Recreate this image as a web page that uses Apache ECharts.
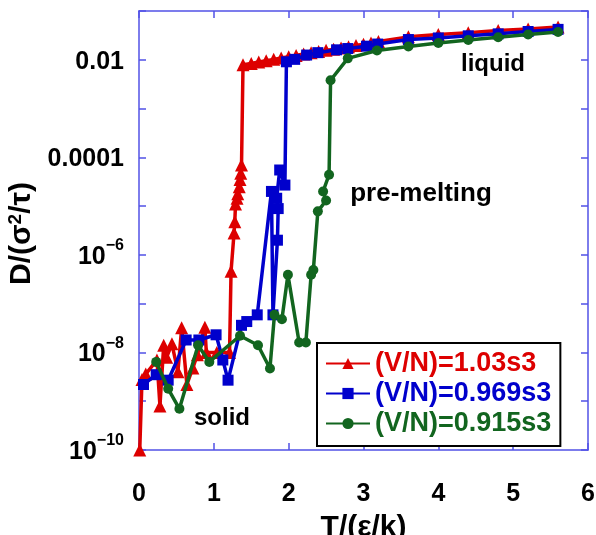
<!DOCTYPE html>
<html>
<head>
<meta charset="utf-8">
<style>
  html, body { margin: 0; padding: 0; background: #fff; }
  #chart { width: 596px; height: 535px; }
</style>
<script src="https://cdn.jsdelivr.net/npm/echarts@6/dist/echarts.min.js"></script>
</head>
<body>
<div id="chart"></div>
<script>
// Diffusion coefficient D versus temperature T for three densities
const seriesNames = ['(V/N)=1.03s3', '(V/N)=0.969s3', '(V/N)=0.915s3'];

const redT = [0.01, 0.04, 0.09, 0.24, 0.28, 0.33, 0.37, 0.44, 0.52, 0.57,
  0.64, 0.72, 0.78, 0.88, 0.90, 1.04, 1.21, 1.23, 1.27, 1.28,
  1.29, 1.31, 1.32, 1.34, 1.35, 1.36, 1.37, 1.39,
  1.5, 1.6, 1.7, 1.8, 1.9, 2.0, 2.1, 2.2, 2.3, 2.4, 2.5, 2.6, 2.7, 2.8, 2.9, 3.0, 3.1, 3.2,
  3.6, 4.0, 4.4, 4.8, 5.2, 5.6];
const redD = [1.0e-10, 2.8e-9, 3.6e-9, 7e-9, 8e-10, 1.4e-8, 8e-9, 1.5e-8, 4e-9, 3.2e-8,
  2.2e-9, 4.8e-9, 9e-9, 3.3e-8, 1.0e-8, 1.0e-8, 1.0e-8, 4.6e-7, 2.8e-6, 4.8e-6,
  1.1e-5, 1.45e-5, 1.8e-5, 2.5e-5, 3.5e-5, 4.7e-5, 7.0e-5, 7.9e-3,
  8.4e-3, 9.0e-3, 9.6e-3, 1.02e-2, 1.09e-2, 1.16e-2, 1.23e-2, 1.31e-2, 1.39e-2, 1.47e-2,
  1.56e-2, 1.65e-2, 1.75e-2, 1.86e-2, 1.97e-2, 2.09e-2, 2.22e-2, 2.36e-2,
  2.95e-2, 3.3e-2, 3.6e-2, 4.0e-2, 4.3e-2, 4.7e-2];

const blueT = [0.06, 0.23, 0.39, 0.63, 0.80, 1.03, 1.12, 1.19, 1.37, 1.44,
  1.58, 1.77, 1.79, 1.85, 1.86, 1.84, 1.88, 1.95, 1.97, 2.08,
  2.24, 2.39, 2.64, 2.79, 3.04, 3.19, 3.6, 4.0, 4.4, 4.8, 5.2, 5.6];
const blueD = [2.2e-9, 3.5e-9, 2.7e-9, 1.8e-8, 1.8e-8, 2.3e-8, 7e-9, 2.7e-9, 3.6e-8, 4.3e-8,
  5.9e-8, 2.0e-5, 5.9e-8, 2.0e-6, 8.9e-6, 1.45e-5, 5.5e-5, 2.7e-5, 9.1e-3, 1.02e-2,
  1.25e-2, 1.4e-2, 1.6e-2, 1.7e-2, 1.9e-2, 2.1e-2, 2.6e-2, 2.8e-2, 3.1e-2, 3.4e-2, 3.8e-2, 4.2e-2];

const greenT = [0.23, 0.39, 0.54, 0.79, 0.94, 1.35, 1.59, 1.75, 1.81, 1.91,
  1.99, 2.14, 2.23, 2.30, 2.33, 2.39, 2.50, 2.46, 2.54, 2.56,
  2.79, 3.18, 3.6, 4.0, 4.4, 4.8, 5.2, 5.6];
const greenD = [6.4e-9, 1.8e-9, 7e-10, 1.4e-8, 6.4e-9, 2.2e-8, 1.4e-8, 4.7e-9, 5.9e-8, 4.8e-8,
  3.9e-7, 1.6e-8, 1.6e-8, 3.9e-7, 4.9e-7, 7.8e-6, 1.3e-5, 2.0e-5, 4.4e-5, 3.8e-3,
  1.07e-2, 1.55e-2, 1.87e-2, 2.2e-2, 2.55e-2, 2.9e-2, 3.3e-2, 3.7e-2];

const xTicks = [0, 1, 2, 3, 4, 5, 6];
const phaseLabels = ['liquid', 'pre-melting', 'solid'];

const zip = (xs, ys) => xs.map((x, i) => [x, ys[i]]);

const FONT = '"Liberation Sans", Arial, sans-serif';
const AXIS_BLUE = '#5252e6';
const RED = '#dd0000';
const BLUE = '#0000cc';
const GREEN = '#12651f';

const chart = echarts.init(document.getElementById('chart'), null, { renderer: 'canvas' });

// decade labels on every second power of ten
function logLabel(v) {
  const e = Math.round(Math.log10(v));
  if (e % 2 !== 0) return '';
  if (e === -2) return '{b|0.01}';
  if (e === -4) return '{b|0.0001}';
  return '{b|10}{s|\u2212' + (-e) + '}';
}

const axisLineStyle = { color: AXIS_BLUE, width: 1.5 };
const tickStyle = { show: true, inside: true, length: 7, lineStyle: { color: AXIS_BLUE, width: 1.5 } };

const option = {
  backgroundColor: '#fff',
  animation: false,
  grid: { left: 139, right: 8, top: 11, bottom: 85, containLabel: false, outerBoundsMode: 'none' },
  xAxis: [
    {
      type: 'value', min: xTicks[0], max: xTicks[xTicks.length - 1], interval: 1,
      position: 'bottom',
      axisLine: { show: true, lineStyle: axisLineStyle },
      axisTick: tickStyle,
      splitLine: { show: false },
      axisLabel: { margin: 32, color: '#000', fontFamily: FONT, fontWeight: 'bold', fontSize: 25 },
      name: 'T/(ε/k)', nameLocation: 'middle', nameGap: 63,
      nameTextStyle: { color: '#000', fontFamily: FONT, fontWeight: 'bold', fontSize: 30 }
    },
    {
      type: 'value', min: xTicks[0], max: xTicks[xTicks.length - 1], interval: 1,
      position: 'top',
      axisLine: { show: true, onZero: false, lineStyle: axisLineStyle },
      axisTick: tickStyle,
      splitLine: { show: false },
      axisLabel: { show: false }
    }
  ],
  yAxis: [
    {
      type: 'log', logBase: 10, min: 1e-10, max: 1e-1, interval: 1,
      position: 'left',
      axisLine: { show: true, lineStyle: axisLineStyle },
      axisTick: tickStyle,
      minorTick: { show: false },
      splitLine: { show: false },
      axisLabel: {
        margin: 15, formatter: logLabel,
        rich: {
          b: { color: '#000', fontFamily: FONT, fontWeight: 'bold', fontSize: 25, lineHeight: 34, padding: [4, 0, 0, 0] },
          s: { color: '#000', fontFamily: FONT, fontWeight: 'bold', fontSize: 16, lineHeight: 16, verticalAlign: 'top' }
        }
      },
      name: 'D/(σ{s|2}/τ)', nameLocation: 'middle', nameGap: 93,
      nameTextStyle: {
        color: '#000', fontFamily: FONT, fontWeight: 'bold', fontSize: 30,
        padding: [0, 6, 0, 0],
        rich: {
          s: { color: '#000', fontFamily: FONT, fontWeight: 'bold', fontSize: 19, lineHeight: 19, verticalAlign: 'top' }
        }
      }
    },
    {
      type: 'log', logBase: 10, min: 1e-10, max: 1e-1, interval: 1,
      position: 'right',
      axisLine: { show: true, onZero: false, lineStyle: axisLineStyle },
      axisTick: tickStyle,
      splitLine: { show: false },
      axisLabel: { show: false }
    }
  ],
  legend: {
    orient: 'vertical',
    left: 317, top: 343,
    padding: [7, 9, 9, 8],
    itemGap: 3,
    itemWidth: 44, itemHeight: 14,
    borderColor: '#000', borderWidth: 2, borderRadius: 0,
    backgroundColor: '#fff',
    textStyle: { fontFamily: FONT, fontWeight: 'bold', fontSize: 27, lineHeight: 26 },
    data: [
      { name: seriesNames[0], textStyle: { color: RED } },
      { name: seriesNames[1], textStyle: { color: BLUE } },
      { name: seriesNames[2], textStyle: { color: GREEN } }
    ]
  },
  series: [
    {
      name: seriesNames[0], type: 'line', data: zip(redT, redD),
      symbol: 'triangle', symbolSize: 13, showAllSymbol: true,
      lineStyle: { color: RED, width: 3.5 }, itemStyle: { color: RED },
      z: 2
    },
    {
      name: seriesNames[1], type: 'line', data: zip(blueT, blueD),
      symbol: 'rect', symbolSize: 11, showAllSymbol: true,
      lineStyle: { color: BLUE, width: 3.5 }, itemStyle: { color: BLUE },
      z: 3
    },
    {
      name: seriesNames[2], type: 'line', data: zip(greenT, greenD),
      symbol: 'circle', symbolSize: 10, showAllSymbol: true,
      lineStyle: { color: GREEN, width: 3.5 }, itemStyle: { color: GREEN },
      z: 4
    }
  ],
  graphic: [
    { type: 'text', x: 493, y: 64, z: 10,
      style: { text: phaseLabels[0], align: 'center', verticalAlign: 'middle', fill: '#000', font: 'bold 24px ' + FONT } },
    { type: 'text', x: 421, y: 194, z: 10,
      style: { text: phaseLabels[1], align: 'center', verticalAlign: 'middle', fill: '#000', font: 'bold 26px ' + FONT } },
    { type: 'text', x: 222, y: 418, z: 10,
      style: { text: phaseLabels[2], align: 'center', verticalAlign: 'middle', fill: '#000', font: 'bold 24px ' + FONT } }
  ]
};

chart.setOption(option);
</script>
</body>
</html>
